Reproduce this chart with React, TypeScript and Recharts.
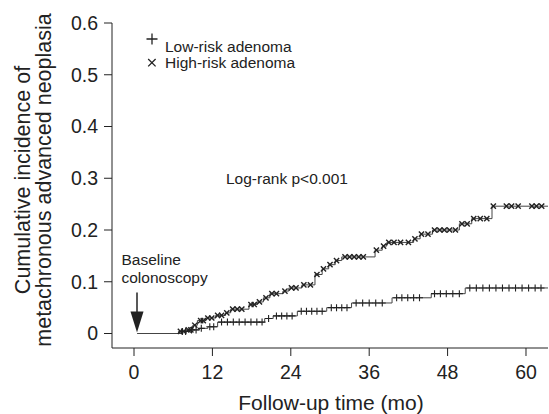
import React from 'react'
import { ComposedChart, Line, Scatter, XAxis, YAxis } from 'recharts'

// step curves (months, cumulative incidence)
const lowT = [0.5, 7.2, 8.5, 10, 11.3, 12.8, 20, 21.3, 25, 29.5, 33.3, 39.5, 45.5, 50.7, 63.37]
const lowV = [0, 0.004, 0.007, 0.01, 0.013, 0.022, 0.029, 0.034, 0.043, 0.05, 0.059, 0.069, 0.077, 0.088, 0.088]

const highT = [0.5, 6.8, 8.0, 9.0, 9.7, 11.0, 12.5, 14.0, 14.8, 17.6, 18.8, 19.8, 20.8, 22.8, 23.7, 25.7, 27.7, 28.8, 29.8, 30.8, 31.8, 36.9, 38.0, 38.7, 42.8, 43.8, 45.7, 49.8, 51.7, 54.8, 63.37]
const highV = [0, 0.004, 0.007, 0.016, 0.025, 0.03, 0.035, 0.04, 0.047, 0.056, 0.061, 0.069, 0.077, 0.082, 0.088, 0.094, 0.114, 0.125, 0.133, 0.141, 0.148, 0.161, 0.169, 0.176, 0.183, 0.192, 0.2, 0.212, 0.222, 0.246, 0.246]

// censored observations (months)
const lowCensor = [7.4, 7.9, 8.8, 9.5, 10.3, 11.6, 12.2, 13.4, 14.3, 15.2, 16.1, 17.0, 17.9, 18.8, 19.6, 20.6, 21.8, 22.6, 23.4, 24.2, 25.6, 26.4, 27.2, 28.0, 28.8, 30.2, 31.0, 31.8, 32.6, 34.0, 35.0, 36.0, 37.0, 38.0, 40.2, 41.0, 41.9, 42.8, 43.7, 46.0, 46.9, 47.8, 48.8, 49.8, 51.4, 52.4, 53.4, 54.4, 55.4, 56.4, 57.4, 58.4, 59.4, 60.4, 61.4, 62.3]
const highCensor = [7.1, 7.6, 8.3, 8.7, 9.3, 10.2, 10.6, 11.3, 11.9, 12.8, 13.4, 14.2, 15.1, 15.8, 16.5, 17.9, 18.4, 19.2, 20.2, 21.1, 21.8, 23.1, 24.1, 24.8, 26.0, 27.0, 28.0, 29.0, 30.0, 31.0, 32.3, 33.0, 33.7, 34.4, 35.1, 37.1, 38.2, 39.0, 39.8, 40.8, 42.0, 43.0, 44.0, 45.0, 46.0, 46.8, 47.5, 48.3, 49.2, 50.2, 51.0, 52.0, 53.0, 54.0, 55.0, 57.0, 57.8, 58.8, 60.9, 61.6, 62.4]

const xTicks = [0, 12, 24, 36, 48, 60]
const yTicks = [0, 0.1, 0.2, 0.3, 0.4, 0.5, 0.6]

const steps = (ts: number[], vs: number[]) => ts.map((t, i) => ({ t, v: vs[i] }))
const valueAt = (ts: number[], vs: number[], t: number) => {
  let v = vs[0]
  for (let i = 0; i < ts.length; i++) if (ts[i] <= t) v = vs[i]
  return v
}
const marks = (cs: number[], ts: number[], vs: number[]) => cs.map(t => ({ t, v: valueAt(ts, vs, t) }))

const lowLine = steps(lowT, lowV)
const highLine = steps(highT, highV)
const lowMarks = marks(lowCensor, lowT, lowV)
const highMarks = marks(highCensor, highT, highV)

const ink = '#222'
const font = '"Liberation Sans", Arial, sans-serif'

const Plus = (p: any) => (
  <path d={`M${p.cx - 3.5},${p.cy}h7M${p.cx},${p.cy - 3.5}v7`} stroke={ink} strokeWidth={1.1} />
)
const Cross = (p: any) => (
  <path d={`M${p.cx - 2.6},${p.cy - 2.6}l5.2,5.2M${p.cx - 2.6},${p.cy + 2.6}l5.2,-5.2`} stroke={ink} strokeWidth={1.4} />
)

export default function App() {
  return (
    <div style={{ position: 'absolute', left: 0, top: 0, width: 549, height: 414, background: '#fff', fontFamily: font }}>
      <ComposedChart width={549} height={414} margin={{ top: 23, right: 1, bottom: 0, left: 0 }}>
        <XAxis
          type="number"
          dataKey="t"
          domain={[-3.37, 63.37]}
          ticks={xTicks}
          allowDataOverflow
          height={66}
          tickSize={8}
          tickMargin={9}
          stroke={ink}
          tick={{ fill: ink, fontSize: 19.5, fontFamily: font }}
        />
        <YAxis
          type="number"
          domain={[-0.028, 0.6]}
          ticks={yTicks}
          allowDataOverflow
          width={112}
          tickSize={8}
          tickMargin={6}
          stroke={ink}
          tickFormatter={(v: number) => (v === 0 ? '0' : v.toFixed(1))}
          tick={{ fill: ink, fontSize: 19.5, fontFamily: font }}
        />
        <Line data={lowLine} dataKey="v" type="stepAfter" stroke="#444" strokeWidth={1} dot={false} isAnimationActive={false} />
        <Line data={highLine} dataKey="v" type="stepAfter" stroke="#444" strokeWidth={1} dot={false} isAnimationActive={false} />
        <Scatter data={lowMarks} dataKey="v" shape={Plus} isAnimationActive={false} />
        <Scatter data={highMarks} dataKey="v" shape={Cross} isAnimationActive={false} />
      </ComposedChart>
      <svg width={549} height={414} style={{ position: 'absolute', left: 0, top: 0, pointerEvents: 'none' }}>
        <g fill={ink} fontFamily={font}>
          <text transform="translate(30,180) rotate(-90)" textAnchor="middle" fontSize={21.5}>Cumulative incidence of</text>
          <text transform="translate(51,180) rotate(-90)" textAnchor="middle" fontSize={21.5}>metachronous advanced neoplasia</text>
          <text x={331} y={410} textAnchor="middle" fontSize={21}>Follow-up time (mo)</text>
          <text x={165} y={51.5} fontSize={15.5}>Low-risk adenoma</text>
          <text x={165} y={68} fontSize={15.5}>High-risk adenoma</text>
          <text x={226} y={184} fontSize={15.5}>Log-rank p&lt;0.001</text>
          <text x={121.5} y={265} fontSize={15.5}>Baseline</text>
          <text x={121.5} y={282.5} fontSize={15.5}>colonoscopy</text>
        </g>
        <path d="M146.5,39h11M152,33.5v11" stroke={ink} strokeWidth={1.3} />
        <path d="M148.2,59l7.4,7.4M148.2,66.4l7.4,-7.4" stroke={ink} strokeWidth={1.3} />
        <path d="M137,292.5v20" stroke={ink} strokeWidth={1.5} />
        <path d="M130.5,311.5h13l-6.5,21z" fill={ink} />
      </svg>
    </div>
  )
}
